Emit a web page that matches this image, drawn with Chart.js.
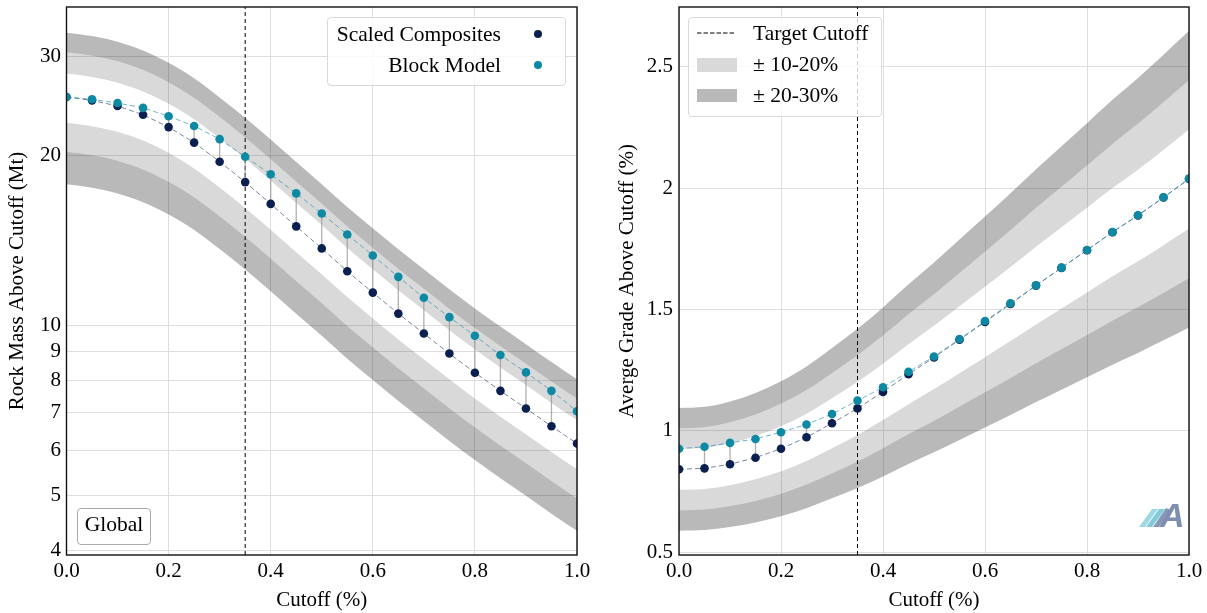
<!DOCTYPE html>
<html><head><meta charset="utf-8">
<script src="https://cdn.jsdelivr.net/npm/chart.js@4.4.1/dist/chart.umd.min.js"></script>
<style>
html,body{margin:0;padding:0;background:#fff;}
#wrap{position:relative;width:1207px;height:613px;overflow:hidden;font-family:'Liberation Serif','Times New Roman',serif;color:#000;}
.cv{position:absolute;top:0;height:613px;}
.box{position:absolute;box-sizing:border-box;border:1px solid #d9d9d9;border-radius:4px;background:rgba(255,255,255,0.8);z-index:2;}
.t{position:absolute;font-size:21.5px;line-height:24px;white-space:nowrap;z-index:3;}
.dot{position:absolute;width:8px;height:8px;border-radius:50%;z-index:3;}
.patch{position:absolute;width:40px;height:13.5px;z-index:3;}
</style></head><body>
<div id="wrap">
  <div class="cv" style="left:0;width:600px"><canvas id="c1"></canvas></div>
  <div class="cv" style="left:600px;width:607px"><canvas id="c2"></canvas></div>

  <!-- left legend -->
  <div class="box" style="left:327px;top:17px;width:239px;height:69px;"></div>
  <div class="t" style="left:300px;width:201px;text-align:right;top:22px">Scaled Composites</div>
  <div class="t" style="left:300px;width:201px;text-align:right;top:53px">Block Model</div>
  <div class="dot" style="left:534.3px;top:29.7px;background:#0b1f50"></div>
  <div class="dot" style="left:534.3px;top:60.7px;background:#0e89a3"></div>

  <!-- right legend -->
  <div class="box" style="left:688px;top:17px;width:194px;height:100px;"></div>
  <svg style="position:absolute;left:696px;top:28px;z-index:3" width="42" height="10"><line x1="1" y1="5" x2="39" y2="5" stroke="#000" stroke-width="1" stroke-dasharray="4.5 2"/></svg>
  <div class="patch" style="left:697px;top:58px;background:#d9d9d9"></div>
  <div class="patch" style="left:697px;top:88.5px;background:#b9b9b9"></div>
  <div class="t" style="left:753px;top:21px">Target Cutoff</div>
  <div class="t" style="left:753px;top:52px">± 10-20%</div>
  <div class="t" style="left:753px;top:83px">± 20-30%</div>

  <!-- Global box -->
  <div class="box" style="left:77px;top:508px;width:74px;height:37px;border-color:#aaaaaa;background:rgba(255,255,255,0.9)"></div>
  <div class="t" style="left:77px;top:508px;width:74px;line-height:32px;text-align:center">Global</div>

  <!-- logo -->
  <svg style="position:absolute;left:1135px;top:498px;z-index:3" width="50" height="32">
    <polygon points="4,29 10,29 23,11 17,11" fill="#9fd8e3"/>
    <polygon points="11,29 17,29 30,11 24,11" fill="#80cad9"/>
    <polygon points="18,29 24,29 36,12 31,10" fill="#8797b6"/>
    <text x="25" y="29" font-family="'Liberation Sans',Arial,sans-serif" font-weight="bold" font-style="italic" font-size="34" fill="#7e8db0">A</text>
  </svg>
</div>
<script>
// ---------- data ----------
const cutoffs = [0.00,0.05,0.10,0.15,0.20,0.25,0.30,0.35,0.40,0.45,0.50,0.55,0.60,0.65,0.70,0.75,0.80,0.85,0.90,0.95,1.00];
const scaledCompMass = [25.42,25.07,24.50,23.64,22.48,21.10,19.52,17.96,16.43,14.99,13.70,12.48,11.44,10.50,9.68,8.92,8.25,7.66,7.13,6.63,6.18];
const blockModelMass = [25.42,25.18,24.80,24.31,23.50,22.58,21.40,19.92,18.54,17.15,15.80,14.50,13.31,12.20,11.20,10.35,9.59,8.87,8.26,7.66,7.05];
const scaledCompGrade = [0.842,0.846,0.863,0.890,0.927,0.974,1.032,1.093,1.161,1.234,1.303,1.376,1.449,1.523,1.599,1.672,1.745,1.819,1.888,1.962,2.038];
const blockModelGrade = [0.927,0.935,0.951,0.967,0.995,1.027,1.070,1.125,1.180,1.244,1.307,1.379,1.453,1.526,1.600,1.673,1.746,1.820,1.889,1.963,2.040];
const cutoffTicks = [0,0.2,0.4,0.6,0.8,1.0];
const cutoffTickLabels = ['0.0','0.2','0.4','0.6','0.8','1.0'];
const massTicks = [4,5,6,7,8,9,10,20,30];
const massTickLabels = ['4','5','6','7','8','9','10','20','30'];
const gradeTicks = [0.5,1,1.5,2,2.5];
const gradeTickLabels = ['0.5','1','1.5','2','2.5'];
const targetCutoff = 0.35;
const bandFactors = [1.3,1.2,1.1,0.9,0.8,0.7];
// ---------------------------

Chart.defaults.font.family = "'Liberation Serif','Times New Roman',serif";
Chart.defaults.font.size = 21;
Chart.defaults.color = '#000';

const LIGHT = 'rgba(0,0,0,0.15)';
const DARK = 'rgba(0,0,0,0.275)';

const framePlugin = {
  id: 'frame',
  afterDraw(chart) {
    const {ctx, chartArea: a} = chart;
    ctx.save();
    ctx.strokeStyle = '#111';
    ctx.lineWidth = 1.4;
    ctx.strokeRect(a.left, a.top, a.right - a.left, a.bottom - a.top);
    ctx.restore();
  }
};

function zeroPad(s) { s.paddingTop = 0; s.paddingBottom = 0; s.paddingLeft = 0; s.paddingRight = 0; }

function buildChart(id, c) {
  const pts = arr => cutoffs.map((x, i) => ({x, y: arr[i]}));
  const band = f => cutoffs.map((x, i) => ({x, y: c.sc[i] * f}));
  const connectors = cutoffs.flatMap((x, i) => [{x, y: c.sc[i]}, {x, y: c.bm[i]}, {x, y: null}]);
  const bandStyle = {borderWidth: 0, pointRadius: 0, cubicInterpolationMode: 'monotone', order: 10, clip: 0};
  const datasets = [
    {data: pts(c.bm), borderColor: 'rgba(14,137,163,0.6)', borderDash: [5, 3], borderWidth: 1,
     pointRadius: 4.3, pointBackgroundColor: '#0e89a3', pointBorderWidth: 0, order: 0, clip: 0},
    {data: pts(c.sc), borderColor: 'rgba(11,31,80,0.55)', borderDash: [5, 3], borderWidth: 1,
     pointRadius: 4.3, pointBackgroundColor: '#0b1f50', pointBorderWidth: 0, order: 1, clip: 0},
    {data: connectors, borderColor: 'rgba(150,150,150,0.75)', borderWidth: 1.3, pointRadius: 0, spanGaps: false, order: 2, clip: 0},
    {data: [{x: targetCutoff, y: c.yMin}, {x: targetCutoff, y: c.yMax}], borderColor: '#000', borderDash: [4, 3],
     borderWidth: 1, pointRadius: 0, order: 3, clip: 0},
    Object.assign({data: band(bandFactors[0]), fill: '+1', backgroundColor: DARK}, bandStyle),
    Object.assign({data: band(bandFactors[1]), fill: '+1', backgroundColor: LIGHT}, bandStyle),
    Object.assign({data: band(bandFactors[2]), fill: false}, bandStyle),
    Object.assign({data: band(bandFactors[3]), fill: '+1', backgroundColor: LIGHT}, bandStyle),
    Object.assign({data: band(bandFactors[4]), fill: '+1', backgroundColor: DARK}, bandStyle),
    Object.assign({data: band(bandFactors[5]), fill: false}, bandStyle)
  ];
  const grid = {color: '#dedede', lineWidth: 1, drawTicks: false};
  return new Chart(document.getElementById(id), {
    type: 'line',
    data: {datasets},
    plugins: [framePlugin],
    options: {
      responsive: true, maintainAspectRatio: false, animation: false, events: [],
      layout: {padding: {left: 0, right: c.padRight, top: 7, bottom: 0}},
      plugins: {legend: {display: false}, tooltip: {enabled: false}},
      scales: {
        x: {
          type: 'linear', min: 0, max: 1, offset: false,
          afterBuildTicks: s => { s.ticks = cutoffTicks.map(v => ({value: v})); },
          afterFit: s => { s.height = 58; zeroPad(s); },
          ticks: {callback: (v, i) => cutoffTickLabels[i], padding: 4, autoSkip: false, maxRotation: 0, color: '#000'},
          grid, border: {display: false},
          title: {display: true, text: 'Cutoff (%)', color: '#000', padding: {top: 0, bottom: 0}}
        },
        y: {
          type: c.yType, min: c.yMin, max: c.yMax,
          afterBuildTicks: s => { s.ticks = c.yTicks.map(v => ({value: v})); },
          afterFit: s => { s.width = c.yAxisWidth; zeroPad(s); },
          ticks: {callback: (v, i) => c.yTickLabels[i], padding: c.yTickPad, autoSkip: false, color: '#000'},
          grid, border: {display: false},
          title: {display: true, text: c.yTitle, color: '#000', padding: {top: c.yTitlePad, bottom: 0}}
        }
      }
    }
  });
}

buildChart('c1', {
  sc: scaledCompMass, bm: blockModelMass, yType: 'logarithmic', yMin: 3.92, yMax: 36.7,
  yTicks: massTicks, yTickLabels: massTickLabels, yTitle: 'Rock Mass Above Cutoff (Mt)',
  yAxisWidth: 66.5, padRight: 23, yTitlePad: 4.9, yTickPad: 5.5
});
buildChart('c2', {
  sc: scaledCompGrade, bm: blockModelGrade, yType: 'linear', yMin: 0.489, yMax: 2.747,
  yTicks: gradeTicks, yTickLabels: gradeTickLabels, yTitle: 'Averge Grade Above Cutoff (%)',
  yAxisWidth: 79, padRight: 18, yTitlePad: 14.4, yTickPad: 6
});
</script>
</body></html>
